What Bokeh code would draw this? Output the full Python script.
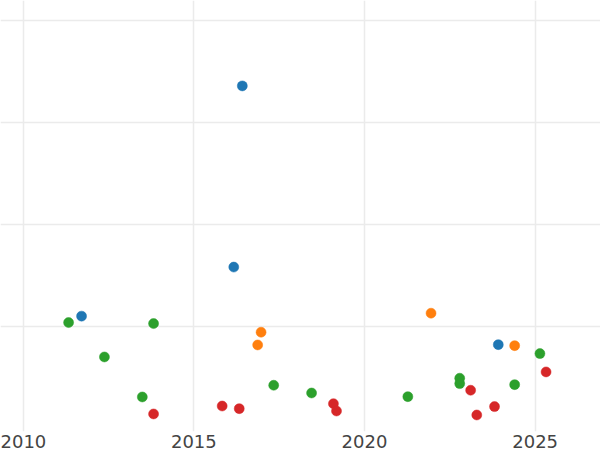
from bokeh.plotting import figure
from bokeh.models import FixedTicker, Range1d
from bokeh.embed import file_html
from bokeh.resources import INLINE

# Data
blue_x = [2011.71, 2016.42, 2016.17, 2023.92]
blue_y = [10.99, 33.61, 15.81, 8.19]

orange_x = [2016.97, 2016.87, 2021.95, 2024.40]
orange_y = [9.41, 8.16, 11.28, 8.09]

green_x = [2011.33, 2013.82, 2012.38, 2013.49, 2017.34, 2018.45, 2021.27,
           2022.79, 2022.79, 2024.40, 2025.14]
green_y = [10.36, 10.26, 6.98, 3.05, 4.20, 3.44, 3.08,
           4.89, 4.36, 4.26, 7.31]

red_x = [2013.82, 2015.83, 2016.33, 2019.09, 2019.18, 2023.11, 2023.29,
         2023.81, 2025.32]
red_y = [1.38, 2.16, 1.90, 2.39, 1.67, 3.71, 1.28, 2.10, 5.51]

x_ticks = [2010, 2015, 2020, 2025]
y_ticks = [10, 20, 30, 40]

series = [
    (blue_x, blue_y, "#1f77b4"),
    (orange_x, orange_y, "#ff7f0e"),
    (green_x, green_y, "#2ca02c"),
    (red_x, red_y, "#d62728"),
]

p = figure(width=600, height=450, output_backend="svg", toolbar_location=None,
           x_range=Range1d(2009.335, 2026.915), y_range=Range1d(-0.344, 42.0),
           min_border_left=0, min_border_right=0, min_border_top=0,
           min_border_bottom=0)

for xs, ys, c in series:
    p.scatter(xs, ys, size=10, fill_color=c, line_color=c, line_width=0.5)

p.yaxis.visible = False
p.xaxis.ticker = FixedTicker(ticks=x_ticks)
p.yaxis.ticker = FixedTicker(ticks=y_ticks)
p.xaxis.axis_line_color = None
p.xaxis.major_tick_line_color = None
p.xaxis.minor_tick_line_color = None
p.xaxis.major_tick_out = 0
p.xaxis.major_tick_in = 0
p.xaxis.major_label_standoff = 3
p.xaxis.major_label_text_font = "DejaVu Sans"
p.xaxis.major_label_text_font_size = "18px"
p.xaxis.major_label_text_color = "#444444"

p.grid.grid_line_color = "#ebebeb"
p.grid.grid_line_width = 1.5
p.outline_line_color = None
p.background_fill_color = "white"
p.border_fill_color = "white"

open("out.html", "w").write(file_html(p, INLINE))
